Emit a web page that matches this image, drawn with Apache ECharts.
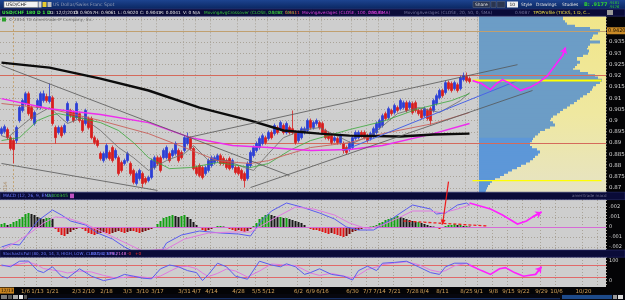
<!DOCTYPE html>
<html><head><meta charset="utf-8">
<script src="https://cdn.jsdelivr.net/npm/echarts@6/dist/echarts.min.js"></script>
<style>html,body{margin:0;padding:0;background:#000;}#c{width:625px;height:300px;}</style>
</head><body><div id="c"></div>
<script>
// ---------- DATA ----------
// daily candles [open, close, low, high]
const candles = [
[0.8942,0.8964,0.8933,0.8973],[0.8951,0.8973,0.8942,0.8982],[0.8960,0.8924,0.8916,0.8969],[0.8924,0.8876,0.8867,0.8933],
[0.8911,0.8871,0.8809,0.8920],[0.8911,0.8969,0.8898,0.8978],[0.9000,0.9058,0.8991,0.9067],[0.9045,0.9089,0.9036,0.9098],
[0.9076,0.9120,0.9067,0.9129],[0.9120,0.9031,0.9022,0.9129],[0.9058,0.9009,0.9000,0.9067],[0.8987,0.9036,0.8978,0.9045],
[0.9058,0.9089,0.9049,0.9098],[0.9058,0.9120,0.9049,0.9129],[0.9089,0.9120,0.9080,0.9134],[0.9107,0.9089,0.9080,0.9120],
[0.9085,0.9107,0.9076,0.9165],[0.9102,0.8987,0.8978,0.9111],[0.8969,0.8924,0.8898,0.8978],[0.8947,0.8969,0.8938,0.8978],
[0.8969,0.8933,0.8924,0.8978],[0.8947,0.8978,0.8938,0.8987],[0.9000,0.9076,0.8991,0.9085],[0.9045,0.9022,0.9013,0.9053],
[0.9036,0.9000,0.8991,0.9045],[0.9013,0.9076,0.9005,0.9085],[0.9031,0.9000,0.8991,0.9040],[0.9000,0.8956,0.8947,0.9009],
[0.8987,0.9045,0.8978,0.9053],[0.9009,0.8969,0.8960,0.9018],[0.9009,0.8924,0.8916,0.9018],[0.8924,0.8902,0.8893,0.8933],
[0.8911,0.8889,0.8880,0.8920],[0.8853,0.8831,0.8822,0.8862],[0.8822,0.8853,0.8813,0.8862],[0.8835,0.8889,0.8827,0.8898],
[0.8858,0.8831,0.8822,0.8867],[0.8880,0.8822,0.8813,0.8889],[0.8835,0.8867,0.8827,0.8876],[0.8835,0.8764,0.8755,0.8844],
[0.8813,0.8778,0.8769,0.8822],[0.8809,0.8822,0.8800,0.8831],[0.8822,0.8853,0.8813,0.8862],[0.8809,0.8764,0.8755,0.8818],
[0.8778,0.8725,0.8716,0.8786],[0.8720,0.8764,0.8711,0.8773],[0.8742,0.8778,0.8733,0.8786],[0.8764,0.8720,0.8702,0.8773],
[0.8742,0.8725,0.8716,0.8751],[0.8733,0.8747,0.8725,0.8755],[0.8747,0.8822,0.8738,0.8831],[0.8791,0.8835,0.8782,0.8844],
[0.8835,0.8809,0.8800,0.8844],[0.8835,0.8778,0.8769,0.8844],[0.8835,0.8867,0.8827,0.8876],[0.8835,0.8880,0.8827,0.8889],
[0.8853,0.8822,0.8813,0.8862],[0.8844,0.8867,0.8835,0.8876],[0.8853,0.8898,0.8844,0.8907],[0.8867,0.8822,0.8813,0.8876],
[0.8858,0.8835,0.8827,0.8867],[0.8867,0.8924,0.8858,0.8933],[0.8898,0.8924,0.8889,0.8947],[0.8920,0.8876,0.8867,0.8929],
[0.8876,0.8786,0.8778,0.8884],[0.8791,0.8764,0.8755,0.8800],[0.8800,0.8755,0.8747,0.8809],[0.8791,0.8747,0.8738,0.8800],
[0.8764,0.8791,0.8755,0.8800],[0.8778,0.8822,0.8769,0.8831],[0.8800,0.8835,0.8791,0.8844],[0.8813,0.8835,0.8804,0.8844],
[0.8822,0.8844,0.8813,0.8853],[0.8844,0.8809,0.8800,0.8853],[0.8831,0.8809,0.8800,0.8840],[0.8822,0.8791,0.8782,0.8831],
[0.8831,0.8786,0.8778,0.8840],[0.8791,0.8822,0.8782,0.8831],[0.8791,0.8769,0.8760,0.8800],[0.8791,0.8764,0.8755,0.8800],
[0.8778,0.8742,0.8733,0.8786],[0.8764,0.8733,0.8702,0.8773],[0.8742,0.8809,0.8733,0.8818],[0.8800,0.8858,0.8791,0.8867],
[0.8844,0.8880,0.8835,0.8889],[0.8867,0.8898,0.8858,0.8907],[0.8880,0.8920,0.8871,0.8929],[0.8898,0.8933,0.8889,0.8942],
[0.8924,0.8902,0.8893,0.8933],[0.8920,0.8947,0.8911,0.8956],[0.8947,0.8924,0.8916,0.8956],[0.8942,0.8978,0.8933,0.8987],
[0.8969,0.8947,0.8938,0.8978],[0.8964,0.8991,0.8956,0.9000],[0.8978,0.8947,0.8938,0.8987],[0.8947,0.8987,0.8938,0.8996],
[0.8969,0.8947,0.8938,0.8978],[0.8964,0.8947,0.8938,0.9045],[0.8947,0.8902,0.8893,0.8956],[0.8911,0.8947,0.8902,0.8956],
[0.8924,0.8964,0.8916,0.8973],[0.8947,0.8964,0.8938,0.8973],[0.8956,0.9000,0.8947,0.9009],[0.9000,0.8969,0.8960,0.9009],
[0.8969,0.8991,0.8960,0.9000],[0.8987,0.9000,0.8978,0.9009],[0.8991,0.8969,0.8960,0.9000],[0.8987,0.8947,0.8938,0.8996],
[0.8956,0.8924,0.8916,0.8964],[0.8942,0.8920,0.8911,0.8951],[0.8933,0.8902,0.8893,0.8942],[0.8911,0.8924,0.8902,0.8933],
[0.8920,0.8902,0.8893,0.8929],[0.8902,0.8933,0.8893,0.8942],[0.8898,0.8867,0.8853,0.8907],[0.8880,0.8858,0.8849,0.8889],
[0.8871,0.8898,0.8862,0.8907],[0.8880,0.8924,0.8871,0.8933],[0.8920,0.8947,0.8911,0.8956],[0.8924,0.8947,0.8916,0.8956],
[0.8947,0.8933,0.8924,0.8956],[0.8947,0.8924,0.8916,0.8956],[0.8933,0.8911,0.8902,0.8942],[0.8920,0.8942,0.8911,0.8951],
[0.8933,0.8964,0.8924,0.8973],[0.8947,0.8987,0.8938,0.8996],[0.8969,0.9000,0.8960,0.9009],[0.8978,0.9022,0.8969,0.9031],
[0.9031,0.9009,0.9000,0.9040],[0.9013,0.9053,0.9005,0.9062],[0.9045,0.9031,0.9022,0.9053],[0.9036,0.9067,0.9027,0.9076],
[0.9058,0.9045,0.9036,0.9067],[0.9053,0.9089,0.9045,0.9098],[0.9058,0.9080,0.9049,0.9089],[0.9080,0.9045,0.9036,0.9089],
[0.9058,0.9080,0.9049,0.9089],[0.9076,0.9036,0.9027,0.9085],[0.9080,0.9045,0.9036,0.9089],[0.9045,0.9031,0.9022,0.9053],
[0.9045,0.9013,0.9005,0.9053],[0.9022,0.9053,0.9013,0.9062],[0.9045,0.9009,0.9000,0.9053],[0.9053,0.9000,0.8982,0.9062],
[0.9045,0.9089,0.9036,0.9098],[0.9076,0.9111,0.9067,0.9120],[0.9102,0.9134,0.9094,0.9142],[0.9134,0.9111,0.9102,0.9142],
[0.9125,0.9169,0.9116,0.9178],[0.9169,0.9142,0.9134,0.9178],[0.9165,0.9134,0.9125,0.9174],[0.9142,0.9169,0.9134,0.9178],
[0.9160,0.9134,0.9125,0.9169],[0.9142,0.9191,0.9134,0.9200],[0.9182,0.9200,0.9174,0.9214],[0.9196,0.9178,0.9169,0.9214],
[0.9187,0.9174,0.9165,0.9196]
];
const slotCount = 202; // candles + empty future slots

// moving averages, [slot, price]
const sma200 = [[0,0.9258],[16,0.9236],[33,0.9187],[49,0.9134],[66,0.9058],[83,0.9000],[94,0.8956],[106,0.8942],[116,0.8933],[133,0.8929],[144,0.8938],[156,0.8942]];
const sma100 = [[0,0.9098],[16,0.9053],[33,0.9027],[49,0.8991],[63,0.8924],[77,0.8889],[89,0.8880],[103,0.8867],[116,0.8871],[127,0.8889],[144,0.8942],[156,0.8987]];
const sma50  = [[0,0.9076],[16,0.9053],[33,0.9000],[49,0.8942],[61,0.8880],[72,0.8822],[79,0.8813],[83,0.8809],[89,0.8822],[94,0.8844],[103,0.8880],[116,0.8902],[127,0.8942],[144,0.8987],[156,0.9036]];
const sma20  = [[0,0.8911],[4,0.8920],[6,0.8924],[12,0.9000],[16,0.9022],[19,0.9031],[27,0.9009],[33,0.8991],[39,0.8956],[44,0.8902],[49,0.8835],[56,0.8786],[63,0.8791],[72,0.8813],[79,0.8800],[83,0.8791],[89,0.8809],[96,0.8867],[103,0.8911],[116,0.8960],[127,0.8996],[139,0.9053],[150,0.9089],[156,0.9120]];
const sma9   = [[0,0.8933],[2,0.8924],[6,0.8969],[10,0.9013],[16,0.9058],[22,0.8987],[27,0.9013],[33,0.8956],[39,0.8880],[44,0.8835],[49,0.8778],[55,0.8822],[61,0.8853],[64,0.8889],[69,0.8822],[75,0.8822],[81,0.8791],[84,0.8778],[89,0.8853],[94,0.8924],[100,0.8956],[106,0.8969],[113,0.8924],[117,0.8898],[124,0.8942],[132,0.9031],[139,0.9058],[146,0.9036],[153,0.9089],[156,0.9125]];

// drawn trend lines [slot, price]
const trendDownUpper = [[0,0.9245],[96,0.8755]];
const trendDownLower = [[0,0.8809],[52,0.8689]];
const trendUpLower   = [[83,0.8702],[177,0.9134]];
const trendUpUpper   = [[62,0.8924],[172,0.9249]];
const trendBlue      = [[114,0.8867],[172,0.9178]];
const forecastPrice  = [[157,0.9178],[160,0.9165],[163,0.9138],[165,0.9165],[167,0.9182],[169,0.9169],[173,0.9134],[176,0.9147],[179,0.9169],[182,0.9200],[185,0.9254],[187,0.9289],[188,0.9325]];
const pocLine  = [[157,0.9178],[200,0.9178]];
const valLine  = [[157,0.8733],[200,0.8733]];
const redLevels = [0.9215, 0.8900];
const profileHigh = 0.9420;
const lastPrice = 0.9177;
const yearSlot = 4;

// TPO profile (price level -> width count)
const profilePrices = [0.868,0.869,0.870,0.871,0.872,0.873,0.874,0.875,0.876,0.877,0.878,0.879,0.880,0.881,0.882,0.883,0.884,0.885,0.886,0.887,0.888,0.889,0.890,0.891,0.892,0.893,0.894,0.895,0.896,0.897,0.898,0.899,0.900,0.901,0.902,0.903,0.904,0.905,0.906,0.907,0.908,0.909,0.910,0.911,0.912,0.913,0.914,0.915,0.916,0.917,0.918,0.919,0.920,0.921,0.922,0.923,0.924,0.925,0.926,0.927,0.928,0.929,0.930,0.931,0.932,0.933,0.934,0.935,0.936,0.937,0.938,0.939,0.940,0.941,0.942,0.943,0.944,0.945,0.946];
const profileTPO = [6,7,8,9,11,13,16,21,25,29,33,38,42,47,51,54,56,59,61,58,53,51,51,53,54,56,59,61,66,71,76,74,71,72,74,78,81,84,88,91,95,98,101,104,108,111,113,114,117,121,123,119,116,109,101,94,96,98,101,98,98,104,109,110,108,109,111,121,111,113,114,119,121,111,96,88,86,84,84];

// MACD (x 0.001)
const macdHist = [0.3,0.4,0.2,0.3,0.5,0.6,0.8,1.0,1.3,1.4,1.3,1.2,1.0,0.9,0.8,0.9,0.9,0.8,
-0.2,-0.5,-0.8,-0.9,-0.7,-0.5,-0.3,-0.2,-0.1,-0.2,-0.4,-0.6,-0.7,-0.8,-0.7,-0.6,-0.5,-0.6,-0.7,-0.6,-0.5,-0.4,-0.5,-0.6,-0.5,-0.4,-0.4,-0.5,-0.6,-0.5,-0.4,-0.3,-0.2,-0.1,
0.3,0.6,0.9,1.0,1.1,1.2,1.1,1.0,1.1,1.2,1.0,0.8,0.5,0.2,
-0.1,-0.3,-0.4,-0.3,-0.2,-0.1,0.1,0.1,0.05,-0.1,-0.2,-0.3,-0.4,-0.3,-0.4,-0.5,-0.4,-0.2,0.1,
0.4,0.8,1.0,1.2,1.3,1.2,1.1,1.0,1.0,0.9,0.9,0.8,0.7,0.6,0.5,0.4,0.2,
-0.1,-0.2,-0.3,-0.3,-0.4,-0.5,-0.6,-0.7,-0.6,-0.7,-0.8,-0.9,-1.0,-0.9,-0.7,-0.5,-0.4,-0.3,-0.2,-0.1,-0.1,0.05,0.1,
0.2,0.4,0.5,0.7,0.8,0.9,1.0,1.1,1.0,0.9,0.8,0.7,0.6,0.5,0.5,0.4,0.3,0.2,0.1,0.05,-0.1,
-0.2,-0.1,0.1,0.2,0.2,0.3,0.2,0.2,0.1,0.1,0.05];
const macdValue = [[0,-2.0],[3,-1.7],[6,-1.8],[9,-0.6],[12,0.6],[17,1.7],[20,1.2],[23,0.6],[28,0.2],[32,-0.6],[37,-1.2],[41,-2.0],[45,-2.6],[48,-3.0],[53,-2.6],[55,-1.6],[60,-0.8],[66,-0.4],[73,-0.6],[79,-0.7],[83,-0.9],[86,0.4],[90,1.6],[95,2.4],[100,2.0],[106,1.4],[111,0.8],[115,0.0],[119,-0.3],[124,-0.3],[129,0.6],[135,1.8],[137,2.2],[143,1.8],[145,1.3],[148,1.4],[152,2.2],[155,2.4],[156,2.2]];
const macdAvg = [[0,-2.3],[5,-1.5],[10,-0.5],[14,0.4],[18,1.0],[22,0.9],[28,0.3],[33,-0.4],[40,-1.4],[47,-2.4],[55,-2.2],[61,-1.2],[69,-0.6],[77,-0.5],[83,-0.5],[87,0.2],[93,1.2],[98,2.0],[104,1.8],[111,1.2],[116,0.4],[122,-0.2],[127,0.2],[133,1.0],[137,1.6],[143,1.6],[147,1.4],[152,1.8],[156,2.2]];
const macdForecast = [[156,2.4],[163,1.8],[167,1.2],[172,0.3],[175,0.6],[177,1.0],[180,1.5]];
const divergenceLine = [[134,0.6],[162,0.1]];
const macdTicks = [-2,-1,0,1,2];
const macdTickText = ['-.002','-.001','0','.001','.002'];

// Stochastic
const stochK = [[0,80],[3,71],[6,99],[9,100],[12,52],[14,42],[17,71],[20,24],[22,14],[26,61],[30,24],[34,2],[38,14],[41,33],[44,24],[47,14],[50,11],[53,61],[56,80],[59,71],[62,52],[65,42],[67,2],[69,33],[72,89],[75,71],[78,24],[82,9],[86,99],[90,80],[93,71],[95,86],[98,71],[101,33],[103,42],[106,61],[110,33],[114,24],[117,5],[119,52],[122,74],[125,52],[127,89],[131,93],[135,99],[139,71],[143,42],[146,33],[148,71],[151,89],[155,89],[156,80]];
const stochD = [[0,75],[3,78],[6,85],[9,95],[12,80],[14,62],[17,55],[20,48],[22,40],[26,50],[30,45],[34,28],[38,15],[41,18],[44,24],[47,20],[50,15],[53,25],[56,48],[59,70],[62,74],[65,62],[67,40],[69,22],[72,38],[75,60],[78,50],[82,20],[86,50],[90,85],[93,82],[95,78],[98,78],[101,55],[103,40],[106,28],[110,38],[114,25],[117,15],[119,30],[122,58],[125,70],[127,82],[131,90],[135,96],[139,82],[143,55],[146,45],[148,52],[151,76],[155,88],[156,86]];
const stochForecast = [[156,80],[160,52],[163,33],[166,61],[168,67],[171,42],[174,24],[178,33],[180,71]];
const stochLevels = [80, 20];
const stochLast = 81.6144;

// date axis ticks
const tickIdx  = [8,12,17,25,29,35,42,47,52,61,65,70,79,85,89,99,103,107,117,122,126,131,137,141,147,155,159,164,169,174,180,185,194,199];
const tickText = ['1/6','1/13','1/21','2/3','2/10','2/18','3/3','3/10','3/17','3/31','4/7','4/14','4/28','5/5','5/12','6/2','6/9','6/16','6/30','7/7','7/14','7/21','7/28','8/4','8/11','8/25','9/1','9/8','9/15','9/22','9/29','10/6','10/20','10/27'];

// annotation anchors
const divText = {label:'divergence', at:[154,0.8768]};
const divArrow = {from:[149,0.8728], to:[147,0.25]};

// ---------- CHART ----------
const FONT = 'DejaVu Sans';
const slots = Array.from({length: slotCount}, (_, i) => i);
const tickSet = new Set(tickIdx);
const tickMap = {}; tickIdx.forEach((t, i) => tickMap[t] = tickText[i]);
const isTick = (i) => tickSet.has(i);
const gridDot = {color:'#a9a398', type:[1,2], width:1};

function xAx(grid, labels) {
  return {gridIndex:grid, type:'category', data:slots, boundaryGap:true,
    axisLine:{show:false}, axisTick:{show:false},
    axisLabel: labels ? {show:true, interval:(i)=>isTick(i), formatter:(v,i)=>tickMap[i]||'', color:'#d4a45c', fontSize:5.5, margin:2, fontFamily:FONT} : {show:false},
    splitLine:{show:true, interval:(i)=>isTick(i), lineStyle:gridDot}};
}
const line = (data, color, width, xi, yi, z, extra) => Object.assign({type:'line', data, xAxisIndex:xi, yAxisIndex:yi, showSymbol:false, symbol:'none', smooth:false, silent:true, lineStyle:{color, width}, z:z||6}, extra||{});
const arrowSeries = (pts, color, width, xi, yi) => [
  {type:'lines', coordinateSystem:'cartesian2d', xAxisIndex:xi, yAxisIndex:yi, polyline:true, silent:true, z:9, data:[{coords:pts}], lineStyle:{color, width, opacity:1}},
  {type:'lines', coordinateSystem:'cartesian2d', xAxisIndex:xi, yAxisIndex:yi, polyline:false, silent:true, z:9, symbol:['none','arrow'], symbolSize:6, data:[{coords:[pts[pts.length-2], pts[pts.length-1]]}], lineStyle:{color, width, opacity:1}}
];

const hist = macdHist.map((v, i) => {
  const p = i ? macdHist[i-1] : 0;
  const c = v >= 0 ? (v >= p ? '#14a014' : '#1a1a1a') : (v <= p ? '#e01414' : '#7a0c0c');
  return {value:v, itemStyle:{color:c}};
});

const chart = echarts.init(document.getElementById('c'), null, {renderer:'canvas'});
const T = (x, y, text, fill, size, extra) => Object.assign({type:'text', x, y, z:102, silent:true, style:{text, fill, fontSize:size||4.6, fontFamily:FONT}}, extra||{});
const R = (x, y, w, h, fill, stroke, z) => ({type:'rect', z:z||101, silent:true, shape:{x, y, width:w, height:h}, style:{fill, stroke:stroke||null, lineWidth:stroke?0.6:0}});

const graphics = [
  R(0,0,625,9,new echarts.graphic.LinearGradient(0,0,0,1,[{offset:0,color:'#1d4490'},{offset:1,color:'#0a2660'}]),null,100),
  R(4,1.5,34,6,'#f3f3f3','#7a7a7a'), T(6,2.3,'USD/CHF','#111',4.6),
  R(38.5,1.5,3,6,'#d8d8d8'), R(42.5,2,4,5,'#e8cc30'), R(47.5,2,4,5,'#bdbdbd'),
  T(53,2.4,'US Dollar/Swiss Franc Spot','#8f9ab4',4.6),
  R(473,1.5,17,6,'#2a3550','#55607a'), T(475,2.4,'Share','#e0e0e0',4.4),
  R(491,1.5,5,6,'#2a3550','#55607a'), R(497,1.5,8,6,'#2a3550','#55607a'),
  R(507,1.5,11,6,'#f0f0f0'), T(509.5,2.4,'10','#111',4.4),
  T(521,2.4,'Style','#e0e0e0',4.4), T(536,2.4,'Drawings','#e0e0e0',4.4), T(562,2.4,'Studies','#e0e0e0',4.4),
  T(584,2.2,'B: .9177','#30d030',5,{style:{text:'B: .9177',fill:'#30d030',fontSize:5,fontFamily:FONT,fontWeight:'bold'}}),
  T(609,0.6,'.9181','#30d030',3.6), T(609,4.6,'.9176','#30d030',3.6),
  // study header row
  R(0,9,625,7.2,'#0a0b38','#32357a',100),
  T(2,10.4,'USD/CHF 180 D 1 D','#40e640',4.5,{style:{text:'USD/CHF 180 D 1 D',fill:'#40e640',fontSize:4.5,fontFamily:FONT,fontWeight:'bold'}}),
  T(50,10.4,'D: 12/2/2013','#e6e6e6',4.3), T(74,10.4,'O: 0.9057','#e6e6e6',4.3), T(95,10.4,'H: 0.9061','#e6e6e6',4.3),
  T(118,10.4,'L: 0.9020','#e6e6e6',4.3), T(140,10.4,'C: 0.9041','#e6e6e6',4.3), T(160,10.4,'R: 0.0041','#e6e6e6',4.3),
  T(183,10.4,'V: 0 N/A','#e6e6e6',4.3),
  T(204,10.4,'MovingAvgCrossover (CLOSE, 20, 50, SMA)','#38c838',4.3), T(268,10.4,'0.9087','#38c838',4.3),
  T(285,10.4,'0.9111','#ff4040',4.3),
  T(302,10.4,'MovingAverages (CLOSE, 100, 200, SMA)','#e040e0',4.3), T(368,10.4,'0.9185','#e040e0',4.3),
  T(404,10.4,'MovingAverages (CLOSE, 20, 50, 0, SMA)','#70709a',4.3), T(515,10.4,'0.9087','#70709a',4.3),
  T(533,10.4,'TPOProfile (TICKS, 1 D, C...','#f0e040',4.3),
  R(607,10,6,5,'#9a9a9a'),
  // copyright
  R(2,17.5,4,4,'#2aa02a'), T(8.5,17.8,'\u00a9 2014 TD Ameritrade IP Company, Inc.','#6e6e6e',4.2),
  // MACD header
  R(0,192.2,625,7.4,'#0a0b38','#2c2f70',100),
  T(3,193.8,'MACD (12, 26, 9, EMA)','#6b78ff',4.4), T(47,193.8,'0.000345','#38c838',4.4), R(70,193.6,4,4.6,'#c050c0'),
  T(572,193.8,'ameritrade macd','#707090',4.0),
  // stochastic header
  R(0,250,625,7.2,'#0a0b38','#2c2f70',100),
  T(3,251.5,'StochasticFull (80, 20, 14, 3, HIGH, LOW, CLOSE, 3, SMA)','#6b78ff',4.0),
  T(91,251.5,'82.1623','#6b78ff',4.2), T(109,251.5,'79.2148','#e070e0',4.2), T(127,251.5,'-0','#ff3030',4.2), T(135,251.5,'+0','#ff3030',4.2),
  // bottom
  R(0,287.6,14,6,'#c98420'), T(1,288.4,'12/13','#1a1000',4.4),
  R(0,294,625,6,'#07070e',null,100),
  R(1,295,6,4,'#7c7c7c'), R(8,295,4,4,'#5a5a5a'), R(13,295,5,4,'#a8a8a8'), R(19,295,4,4,'#e8e8e8'), R(24,295,3,4,'#5a5a5a'),
  R(28,298.2,532,1,'#1e3c7c'), R(562,295,50,4,'#1d4a8a'), R(613,295,4,4,'#9a9a9a'), R(618,295,5,4,'#dcdcdc')
];

const option = {
  animation:false,
  backgroundColor:'#040406',
  textStyle:{fontFamily:FONT},
  grid:[
    {left:0, top:8.3, width:606, height:190.9, show:true, backgroundColor:'#cecece', borderWidth:0, z:0, outerBoundsMode:'none'},
    {left:479, top:16.2, width:127, height:177.4, show:true, borderWidth:0, z:1, outerBoundsMode:'none',
      backgroundColor:new echarts.graphic.LinearGradient(0,0,0,1,[{offset:0,color:'#f1e68a'},{offset:0.55,color:'#efe8a0'},{offset:1,color:'#e6e3c4'}])},
    {left:0, top:197, width:606, height:60, show:true, backgroundColor:'#cecece', borderWidth:0, z:0, outerBoundsMode:'none'},
    {left:0, top:257, width:606, height:30, show:true, backgroundColor:'#cecece', borderWidth:0, z:0, outerBoundsMode:'none'}
  ],
  xAxis:[ xAx(0,false), {gridIndex:1, type:'value', min:0, max:127, show:false}, xAx(2,false), xAx(3,true) ],
  yAxis:[
    {gridIndex:0, type:'value', position:'right', min:0.865, max:0.95, interval:0.005,
      axisLine:{show:false}, axisTick:{show:false}, splitLine:{show:true, lineStyle:gridDot},
      axisLabel:{color:'#d6d6d6', fontSize:5.5, margin:3, fontFamily:FONT, formatter:(v)=> (v>0.9376||v<0.8676)?'':String(+v.toFixed(3))}},
    {gridIndex:1, type:'category', data:profilePrices.map(String), show:false},
    {gridIndex:2, type:'value', position:'right', min:-3, max:3, interval:1,
      axisLine:{show:false}, axisTick:{show:false}, splitLine:{show:true, lineStyle:gridDot},
      axisLabel:{color:'#d6d6d6', fontSize:5, margin:3, fontFamily:FONT, formatter:(v)=> { const k = macdTicks.indexOf(v); return k < 0 ? '' : macdTickText[k]; }}},
    {gridIndex:3, type:'value', position:'right', min:-30, max:120, interval:30,
      axisLine:{show:false}, axisTick:{show:false}, splitLine:{show:false},
      axisLabel:{color:'#d6d6d6', fontSize:5, margin:3, fontFamily:FONT, customValues:[0,100]}}
  ],
  series:[
    // profile
    {type:'bar', xAxisIndex:1, yAxisIndex:1, data:profileTPO, barWidth:3, barGap:'0%', silent:true, z:2,
      itemStyle:{color:(p)=> parseFloat(p.name) < 0.8925 ? '#5d97d8' : '#6c9dc6'}},
    // candles
    {type:'candlestick', xAxisIndex:0, yAxisIndex:0, data:candles, barWidth:2, silent:true, z:5,
      itemStyle:{color:'#2c3fd6', color0:'#d81e1e', borderColor:'#2c3fd6', borderColor0:'#d81e1e', borderWidth:0.8},
      markLine:{silent:true, symbol:'none', animation:false, data:[
        {yAxis:redLevels[0], lineStyle:{color:'#d46a5c', width:1, type:'solid'}, label:{show:false}},
        {yAxis:redLevels[1], lineStyle:{color:'#d46a5c', width:1, type:'solid'}, label:{show:false}},
        {yAxis:profileHigh, lineStyle:{color:'#c0a070', width:1, type:'solid'},
          label:{show:true, position:'end', distance:1, formatter:profileHigh.toFixed(4), backgroundColor:'#c98a26', color:'#1a1000', fontSize:5, padding:[1,1], fontFamily:FONT}},
        {yAxis:lastPrice, lineStyle:{opacity:0},
          label:{show:true, position:'end', distance:1, formatter:lastPrice.toFixed(4), backgroundColor:'#1d3fd8', color:'#ffffff', fontSize:5, padding:[1,1], fontFamily:FONT}},
        {xAxis:yearSlot, lineStyle:{color:'#c0a070', width:1, type:[2,2]},
          label:{show:true, position:'insideStartTop', formatter:'2014', color:'#a88860', fontSize:5, fontFamily:FONT}}
      ]},
      markPoint:{silent:true, symbol:'none', data:[{coord:divText.at, label:{show:true, formatter:divText.label, color:'#ff2020', fontSize:10, fontFamily:FONT, fontStyle:'italic'}}]}
    },
    line(sma9, '#6a6a6a', 0.8, 0, 0),
    line(sma20, '#3aa83a', 0.8, 0, 0),
    line(sma50, '#c8605a', 0.9, 0, 0),
    line(sma100, '#ee2cee', 1.4, 0, 0),
    line(sma200, '#0c0c0c', 2.4, 0, 0),
    line(trendDownUpper, '#555', 0.8, 0, 0, 7),
    line(trendDownLower, '#555', 0.8, 0, 0, 7),
    line(trendUpLower, '#555', 0.8, 0, 0, 7),
    line(trendUpUpper, '#555', 0.8, 0, 0, 7),
    line(trendBlue, '#4a64e6', 1, 0, 0, 7),
    line(pocLine, '#ffff00', 2, 0, 0, 7),
    line(valLine, '#ffff00', 1.3, 0, 0, 7),
    ...arrowSeries(forecastPrice, '#ff20ff', 1.6, 0, 0),
    // MACD
    {type:'bar', xAxisIndex:2, yAxisIndex:2, data:hist, barWidth:2, silent:true, z:3,
      markLine:{silent:true, symbol:'none', data:[{yAxis:0, lineStyle:{color:'#d66ad6', width:1.2, type:'solid'}, label:{show:false}}]}},
    line(macdValue, '#5a5cf0', 1, 2, 2, 5),
    line(macdAvg, '#e07ae0', 1, 2, 2, 5),
    line(divergenceLine, '#ee2020', 1.3, 2, 2, 6, {lineStyle:{color:'#ee2020', width:1.3, type:[3,2]}}),
    ...arrowSeries(macdForecast, '#ff20ff', 1.6, 2, 2),
    // Stochastic
    line(stochD, '#e07ae0', 1, 3, 3, 5),
    line(stochK, '#5a5cf0', 1, 3, 3, 5, {markLine:{silent:true, symbol:'none', data:[
      {yAxis:stochLevels[0], lineStyle:{color:'#e06a6a', width:1, type:'solid'}, label:{show:false}},
      {yAxis:stochLevels[1], lineStyle:{color:'#e06a6a', width:1, type:'solid'}, label:{show:false}},
      {yAxis:stochLast, lineStyle:{opacity:0}, label:{show:true, position:'end', distance:1, formatter:stochLast.toFixed(4), backgroundColor:'#1d3fd8', color:'#fff', fontSize:4.6, padding:[1,1], fontFamily:FONT}}
    ]}}),
    ...arrowSeries(stochForecast, '#ff20ff', 1.6, 3, 3)
  ],
  graphic:graphics
};
chart.setOption(option);

// divergence arrow from the annotation down into the MACD pane
const a = chart.convertToPixel({gridIndex:0}, divArrow.from);
const b = chart.convertToPixel({gridIndex:2}, divArrow.to);
const dx = b[0]-a[0], dy = b[1]-a[1], L = Math.hypot(dx,dy), ux = dx/L, uy = dy/L;
chart.setOption({graphic:[
  {id:'divLine', type:'line', z:103, silent:true, shape:{x1:a[0], y1:a[1], x2:b[0], y2:b[1]}, style:{stroke:'#ee1a1a', lineWidth:1.2}},
  {id:'divHead', type:'polygon', z:103, silent:true, shape:{points:[[b[0],b[1]],[b[0]-5*ux-2.5*uy, b[1]-5*uy+2.5*ux],[b[0]-5*ux+2.5*uy, b[1]-5*uy-2.5*ux]]}, style:{fill:'#ee1a1a'}}
]});
</script></body></html>
